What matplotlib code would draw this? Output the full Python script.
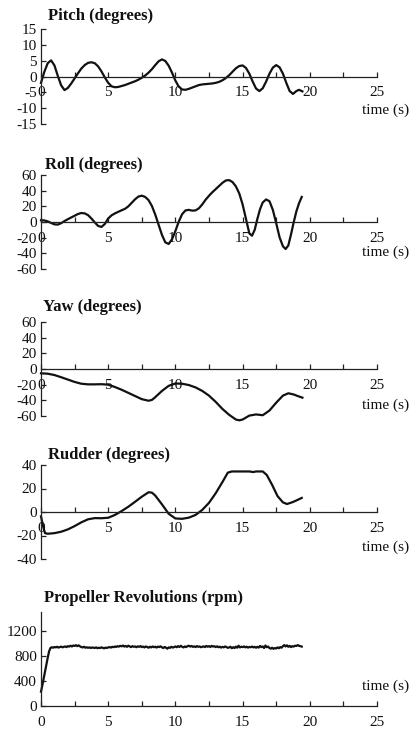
import numpy as np
import matplotlib
matplotlib.use("Agg")
import matplotlib.pyplot as plt

plt.rcParams['font.family'] = ['Liberation Serif', 'DejaVu Serif']
plt.rcParams['axes.unicode_minus'] = False

# pitch (degrees)
pitch_t = [0, 0.25, 0.5, 0.75, 1.0, 1.25, 1.5, 1.75, 2.0, 2.25, 2.5, 2.75, 3.0, 3.25, 3.5, 3.75,
           4.0, 4.25, 4.5, 4.75, 5.0, 5.25, 5.5, 5.75, 6.0, 6.25, 6.5, 6.75, 7.0, 7.25, 7.5, 7.75,
           8.0, 8.25, 8.5, 8.75, 9.0, 9.25, 9.5, 9.75, 10.0, 10.25, 10.5, 10.75, 11.0, 11.25, 11.5,
           11.75, 12.0, 12.25, 12.5, 12.75, 13.0, 13.25, 13.5, 13.75, 14.0, 14.25, 14.5, 14.75, 15.0,
           15.25, 15.5, 15.75, 16.0, 16.25, 16.5, 16.75, 17.0, 17.25, 17.5, 17.75, 18.0, 18.25, 18.5,
           18.75, 19.0, 19.2, 19.45]
pitch = [-2, 1.5, 4.2, 5.1, 3.5, 0.2, -2.8, -4.3, -3.6, -2.2, -0.6, 1.0, 2.5, 3.6, 4.3, 4.5,
         4.2, 3.2, 1.6, -0.3, -2.0, -3.1, -3.4, -3.3, -3.0, -2.7, -2.3, -1.9, -1.5, -1.0, -0.4, 0.3,
         1.2, 2.3, 3.6, 4.8, 5.4, 4.9, 3.4, 1.2, -1.3, -3.2, -4.1, -4.2, -3.9, -3.5, -3.1,
         -2.7, -2.5, -2.4, -2.3, -2.2, -2.0, -1.7, -1.2, -0.5, 0.4, 1.5, 2.6, 3.3, 3.5,
         2.7, 0.9, -1.6, -3.8, -4.6, -3.7, -1.6, 0.9, 2.8, 3.6, 2.9, 0.9, -2.0, -4.6,
         -5.5, -4.6, -4.2, -4.7]

# roll (degrees)
roll_t = [0, 0.25, 0.5, 0.75, 1.0, 1.25, 1.5, 1.75, 2.0, 2.25, 2.5, 2.75, 3.0, 3.25, 3.5, 3.75,
          4.0, 4.25, 4.5, 4.75, 5.0, 5.25, 5.5, 5.75, 6.0, 6.25, 6.5, 6.75, 7.0, 7.25, 7.5, 7.75,
          8.0, 8.25, 8.5, 8.75, 9.0, 9.25, 9.5, 9.75, 10.0, 10.25, 10.5, 10.75, 11.0, 11.25, 11.5,
          11.75, 12.0, 12.25, 12.5, 12.75, 13.0, 13.25, 13.5, 13.75, 14.0, 14.25, 14.5, 14.75, 15.0,
          15.25, 15.5, 15.7, 15.9, 16.1, 16.3, 16.5, 16.75, 17.0, 17.25, 17.5, 17.75, 18.0, 18.2,
          18.4, 18.6, 18.8, 19.0, 19.2, 19.4]
roll = [2.2, 2.0, 0.8, -1.2, -3.0, -3.3, -1.5, 1.2, 3.6, 5.8, 8.0, 10.2, 11.5, 11.0, 8.8, 4.5,
        -0.5, -5.0, -6.3, -2.5, 4.5, 8.5, 11.0, 13.0, 15.0, 16.8, 20.0, 24.5, 29.0, 32.5, 33.6, 32.0,
        28.0, 20.5, 9.5, -3.5, -16.5, -26.0, -28.0, -22.0, -11.5, 0.5, 10.0, 14.8, 15.5, 14.5, 14.8,
        17.5, 22.5, 28.5, 33.5, 38.0, 42.0, 46.0, 50.0, 53.0, 53.5, 51.0, 45.5, 36.5, 22.5,
        4.0, -14.5, -17.5, -10.0, 4.0, 16.5, 25.0, 28.8, 26.5, 15.5, -1.5, -19.5, -31.0, -34.5,
        -30.0, -16.0, -0.5, 13.5, 24.0, 32.0]

# yaw (degrees)
yaw_t = [0, 0.5, 1.0, 1.5, 2.0, 2.5, 3.0, 3.5, 4.0, 4.5, 5.0, 5.5, 6.0, 6.5, 7.0, 7.5, 8.0, 8.25,
         8.5, 9.0, 9.5, 10.0, 10.5, 11.0, 11.5, 12.0, 12.5, 13.0, 13.5, 14.0, 14.5, 14.75, 15.0,
         15.5, 16.0, 16.5, 17.0, 17.5, 18.0, 18.4, 18.8, 19.1, 19.45]
yaw = [-5.5, -6.0, -7.7, -10.5, -13.5, -16.5, -18.8, -19.6, -19.6, -19.4, -20.0, -23.0, -26.5,
       -30.5, -34.5, -38.5, -40.5, -39.5, -36.0, -28.0, -21.5, -18.5, -18.8, -20.5, -23.5, -28.0,
       -34.0, -42.0, -51.0, -58.5, -64.5, -65.5, -64.5, -59.5, -58.0, -59.0, -53.0, -43.0, -34.0,
       -31.0, -32.5, -34.5, -36.6]

# rudder (degrees)
rudder_t = [0, 0.15, 0.3, 0.5, 1.0, 1.5, 2.0, 2.5, 3.0, 3.5, 4.0, 4.5, 5.0, 5.5, 6.0, 6.5, 7.0,
            7.5, 8.0, 8.25, 8.5, 9.0, 9.5, 10.0, 10.5, 11.0, 11.5, 12.0, 12.5, 13.0, 13.5, 13.9,
            14.2, 15.0, 15.5, 15.8, 16.0, 16.5, 16.8, 17.2, 17.6, 18.0, 18.3, 18.7, 19.0, 19.4]
rudder = [-3.7, -12.0, -18.0, -18.5, -18.0, -16.8, -14.8, -12.0, -8.8, -6.2, -5.2, -5.3, -4.9,
          -2.5, 0.8, 4.5, 8.7, 13.0, 16.8, 16.5, 14.0, 6.5, -1.5, -5.5, -5.8, -4.8, -2.5, 1.8, 7.8,
          16.0, 25.5, 33.5, 34.5, 34.5, 34.5, 34.0, 34.5, 34.5, 31.5, 23.0, 13.5, 8.2, 6.8, 8.3,
          9.8, 12.0]

# propeller revolutions (rpm), one sample every 0.1 s
prop_rpm = [229, 330, 440, 550, 660, 770, 870, 925,
            938, 930, 942, 935, 945, 932, 940, 948, 936, 944, 950, 940,
            955, 948, 962, 950, 965, 958, 970, 955, 968, 952,
            940, 935, 945, 930, 938, 928, 936, 925, 934, 930,
            926, 935, 922, 930, 925, 936, 928, 920, 932, 926,
            935, 940, 932, 945, 938, 950, 942, 955, 948, 960,
            952, 965, 948, 958, 945, 962, 950, 940, 955, 945,
            950, 938, 952, 944, 956, 940, 948, 935, 950, 942,
            930, 945, 935, 950, 938, 946, 932, 948, 940, 952,
            936, 925, 942, 930, 915, 935, 928, 945, 932, 940,
            950, 938, 955, 942, 960, 945, 935, 950, 940, 955,
            962, 948, 958, 944, 952, 940, 956, 945, 950, 938,
            945, 952, 940, 958, 946, 955, 942, 960, 948, 954,
            940, 952, 938, 946, 932, 944, 936, 950, 940, 928,
            935, 945, 922, 938, 925, 948, 930, 962, 935, 945,
            940, 950, 936, 946, 932, 942, 938, 948, 935, 944,
            930, 945, 932, 958, 940, 950, 925, 965, 938, 948,
            925, 915, 930, 912, 925, 918, 935, 922, 940, 930,
            955, 972, 950, 968, 945, 960, 940, 955, 948, 962,
            958, 972, 960, 955, 948]
prop_t = np.arange(len(prop_rpm)) * 0.1

titles = ['Pitch (degrees)', 'Roll (degrees)', 'Yaw (degrees)', 'Rudder (degrees)',
          'Propeller Revolutions (rpm)']
series = [(pitch_t, pitch), (roll_t, roll), (yaw_t, yaw), (rudder_t, rudder), (prop_t, prop_rpm)]
ylims = [(-15, 15), (-60, 60), (-60, 60), (-40, 40), (0, 1500)]
yticks = [[-15, -10, -5, 0, 5, 10, 15],
          [-60, -40, -20, 0, 20, 40, 60],
          [-60, -40, -20, 0, 20, 40, 60],
          [-40, -20, 0, 20, 40],
          [0, 400, 800, 1200]]
xticks = [0, 5, 10, 15, 20, 25]

W, H = 410, 731
# axes boxes in pixels: (top, bottom) of the y range
boxes = [(29, 124), (175, 269), (322, 416), (465, 559), (612, 706)]
title_y = [16, 165, 307, 455, 598]
title_x = [48, 45, 43, 48, 44]
xlabel_y = [110, 252, 405, 547, 686]

fig = plt.figure(figsize=(W / 100, H / 100), dpi=100)
axcol = '#222222'

for i in range(5):
    top, bot = boxes[i]
    ax = fig.add_axes([41 / W, 1 - bot / H, 336 / W, (bot - top) / H])
    ax.patch.set_visible(False)
    t, v = series[i]
    ax.plot(t, v, color='#111111', lw=1.6, clip_on=False, solid_joinstyle='round')
    ax.set_xlim(0, 25)
    ax.set_ylim(*ylims[i])
    ax.set_yticks(yticks[i])
    ax.set_xticks(xticks)
    ax.set_xticks(np.arange(0, 25.1, 2.5), minor=True)
    for s in ['top', 'right']:
        ax.spines[s].set_visible(False)
    ax.spines['bottom'].set_position(('data', 0))
    for s in ['left', 'bottom']:
        ax.spines[s].set_color(axcol)
        ax.spines[s].set_linewidth(0.9)
    ax.tick_params(axis='both', which='both', direction='in', length=3.5, width=0.9,
                   color=axcol, labelsize=11, labelcolor='#111111')
    ax.tick_params(axis='x', pad=7)
    ax.tick_params(axis='y', pad=3)
    fig.text(title_x[i] / W, 1 - title_y[i] / H, titles[i], fontsize=12, fontweight='bold',
             ha='left', va='center', color='#111111')
    fig.text(0.999, 1 - xlabel_y[i] / H, 'time (s)', fontsize=11, ha='right', va='center',
             color='#111111')

fig.savefig('out.png', dpi=100)
